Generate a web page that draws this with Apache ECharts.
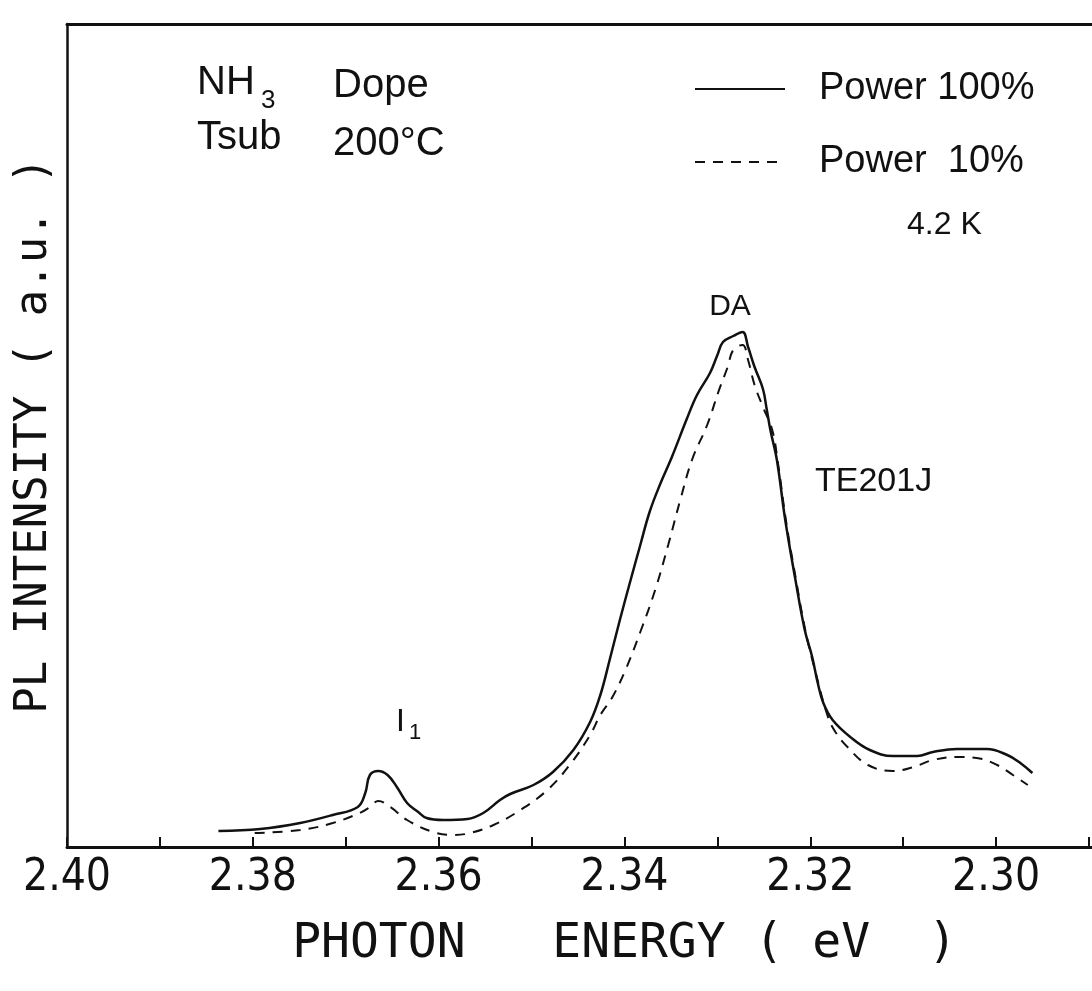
<!DOCTYPE html>
<html>
<head>
<meta charset="utf-8">
<script src="https://cdn.jsdelivr.net/npm/echarts@6/dist/echarts.min.js"></script>
<style>
html,body{margin:0;padding:0;background:#fff;}
#chart{width:1092px;height:991px;}
</style>
</head>
<body>
<div id="chart"></div>
<script>
// Photon energy (eV) and PL intensity (a.u.), Power 100 %
const energySolid = [2.3837,2.3792,2.3749,2.3714,2.3687,2.3679,2.3674,2.3665,2.3655,2.3645,2.3634,2.3622,2.3613,2.3595,2.3569,2.3552,2.3534,2.3523,2.3498,2.3477,2.3455,2.3437,2.3426,2.3416,2.3405,2.3394,2.3383,2.3373,2.3362,2.3349,2.3333,2.3322,2.3308,2.3300,2.3294,2.3283,2.3273,2.3267,2.3260,2.3251,2.3247,2.3243,2.3236,2.3227,2.3216,2.3206,2.3198,2.3192,2.3186,2.3176,2.3157,2.3136,2.3111,2.3085,2.3068,2.3042,2.3010,2.2988,2.2974,2.2961];
const intensitySolid = [16,18,24,32,40,54,72,76,72,60,44,35,29,27,28,34,47,53,62,75,97,125,152,187,227,265,302,335,362,390,428,452,474,492,505,511,515,500,480,458,438,417,387,327,267,217,190,164,144,127,110,97,91,91,95,98,98,92,84,74];
// Power 10 %
const energyDashed = [2.3798,2.3749,2.3714,2.3685,2.3674,2.3665,2.3652,2.3634,2.3606,2.3585,2.3566,2.3541,2.3512,2.3483,2.3459,2.3437,2.3426,2.3413,2.3399,2.3383,2.3367,2.3353,2.3340,2.3327,2.3311,2.3299,2.3289,2.3283,2.3273,2.3267,2.3260,2.3251,2.3241,2.3235,2.3226,2.3215,2.3205,2.3195,2.3181,2.3173,2.3160,2.3138,2.3111,2.3089,2.3068,2.3042,2.3021,2.2999,2.2982,2.2966];
const intensityDashed = [14,17,24,34,40,46,40,27,15,12,14,22,37,57,82,112,132,150,177,215,257,302,347,388,422,455,480,497,502,487,462,440,417,385,325,265,215,177,130,115,100,82,76,80,87,90,89,82,72,62];
const seriesNames = ['Power 100%', 'Power  10%'];
const xTitle = 'PHOTON   ENERGY ( eV  )';
const yTitle = 'PL INTENSITY ( a.u. )';

const zip = (a, b) => a.map((v, i) => [v, b[i]]);
const chart = echarts.init(document.getElementById('chart'), null, {renderer: 'canvas'});
const FONT = 'Liberation Sans, Arial, sans-serif';
const MONO = 'DejaVu Sans Mono, Liberation Mono, monospace';

const option = {
  animation: false,
  backgroundColor: '#fff',
  textStyle: {fontFamily: FONT, color: '#111'},
  grid: {left: 67, width: 1115, top: 24, height: 823, containLabel: false, outerBoundsMode: 'none'},
  legend: {
    orient: 'vertical', left: 689, top: 65,
    itemWidth: 90, itemHeight: 14, itemGap: 35,
    itemStyle: {opacity: 0},
    textStyle: {fontSize: 38, fontFamily: FONT, color: '#111', padding: [0, 0, 0, 29]},
    data: seriesNames
  },
  xAxis: [{
    type: 'value', inverse: true, min: 2.28, max: 2.40, interval: 0.01,
    name: xTitle, nameLocation: 'middle', nameGap: 74,
    nameTextStyle: {fontSize: 48, fontFamily: MONO, color: '#111'},
    axisLine: {show: true, lineStyle: {color: '#111', width: 3}},
    axisTick: {show: true, inside: true, length: 10, lineStyle: {color: '#111', width: 2}},
    axisLabel: {
      show: true, margin: 10, fontSize: 44, color: '#111',
      fontFamily: 'Liberation Sans Narrow, DejaVu Sans Condensed, sans-serif',
      showMaxLabel: true, showMinLabel: false,
      formatter: v => { const k = Math.round(v * 100); return k % 2 === 0 ? (k / 100).toFixed(2) : ''; }
    },
    splitLine: {show: false}
  }, {
    type: 'value', position: 'top', inverse: true, min: 2.28, max: 2.40,
    axisLine: {show: true, lineStyle: {color: '#111', width: 3}},
    axisTick: {show: false}, axisLabel: {show: false}, splitLine: {show: false}
  }],
  yAxis: {
    type: 'value', min: 0, max: 823,
    name: yTitle, nameLocation: 'middle', nameGap: 10,
    nameTextStyle: {fontSize: 44, fontFamily: MONO, color: '#111'},
    axisLine: {show: true, lineStyle: {color: '#111', width: 2.5}},
    axisTick: {show: false}, axisLabel: {show: false}, splitLine: {show: false}
  },
  series: [{
    name: seriesNames[0], type: 'line', xAxisIndex: 0,
    data: zip(energySolid, intensitySolid),
    showSymbol: false, symbol: 'none', smooth: 0.4,
    lineStyle: {color: '#111', width: 2.5, type: 'solid'},
    itemStyle: {color: '#111'}
  }, {
    name: seriesNames[1], type: 'line', xAxisIndex: 0,
    data: zip(energyDashed, intensityDashed),
    showSymbol: false, symbol: 'none', smooth: 0.4,
    lineStyle: {color: '#111', width: 2, type: [10, 8]},
    itemStyle: {color: '#111'}
  }],
  graphic: [
    {type: 'text', style: {x: 197, y: 83, text: 'NH', font: '40px ' + FONT, fill: '#111', textVerticalAlign: 'middle'}},
    {type: 'text', style: {x: 261, y: 101, text: '3', font: '26px ' + FONT, fill: '#111', textVerticalAlign: 'middle'}},
    {type: 'text', style: {x: 333, y: 86, text: 'Dope', font: '40px ' + FONT, fill: '#111', textVerticalAlign: 'middle'}},
    {type: 'text', style: {x: 197, y: 138, text: 'Tsub', font: '40px ' + FONT, fill: '#111', textVerticalAlign: 'middle'}},
    {type: 'text', style: {x: 333, y: 144, text: '200°C', font: '40px ' + FONT, fill: '#111', textVerticalAlign: 'middle'}},
    {type: 'text', style: {x: 907, y: 225, text: '4.2 K', font: '32px ' + FONT, fill: '#111', textVerticalAlign: 'middle'}},
    {type: 'text', style: {x: 730, y: 307, text: 'DA', font: '30px ' + FONT, fill: '#111', textAlign: 'center', textVerticalAlign: 'middle'}},
    {type: 'text', style: {x: 815, y: 482, text: 'TE201J', font: '34px ' + FONT, fill: '#111', textVerticalAlign: 'middle'}},
    {type: 'text', style: {x: 396, y: 722, text: 'I', font: '32px ' + FONT, fill: '#111', textVerticalAlign: 'middle'}},
    {type: 'text', style: {x: 409, y: 733, text: '1', font: '22px ' + FONT, fill: '#111', textVerticalAlign: 'middle'}}
  ]
};
chart.setOption(option);
</script>
</body>
</html>
